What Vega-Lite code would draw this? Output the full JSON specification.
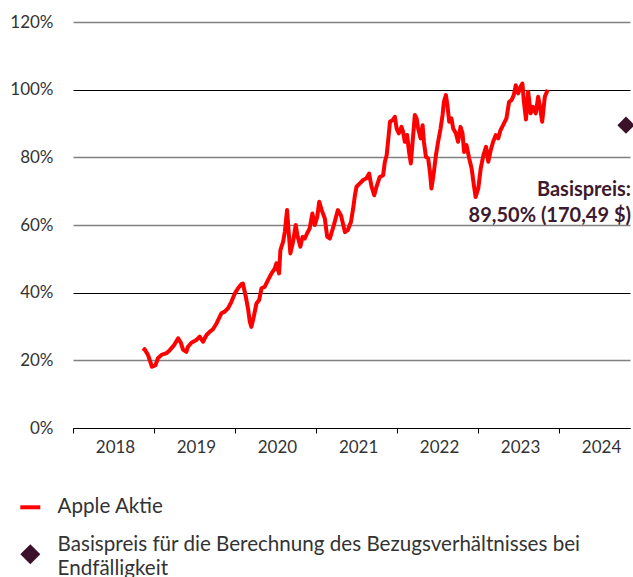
{
  "$schema": "https://vega.github.io/schema/vega-lite/v6.json",
  "width": 557,
  "height": 406,
  "autosize": {"type": "none"},
  "padding": {"left": 73, "top": 22, "right": 3, "bottom": 149},
  "config": {
    "font": "Lato",
    "view": {"stroke": null},
    "axis": {"labelFont": "Lato", "labelFontSize": 17, "labelColor": "#333333", "domainColor": "#000000", "tickColor": "#000000"}
  },
  "datasets": {
    "apple": [
      {"date": "2018/11/14", "value": 22.7}, {"date": "2018/11/20", "value": 23.3}, {"date": "2018/12/05", "value": 21.6},
      {"date": "2018/12/23", "value": 18.1}, {"date": "2019/01/08", "value": 18.6}, {"date": "2019/01/19", "value": 20.6},
      {"date": "2019/02/04", "value": 21.6}, {"date": "2019/02/26", "value": 22.1}, {"date": "2019/03/13", "value": 23.0},
      {"date": "2019/04/02", "value": 24.5}, {"date": "2019/04/20", "value": 26.5}, {"date": "2019/05/02", "value": 25.2},
      {"date": "2019/05/12", "value": 23.2}, {"date": "2019/05/27", "value": 22.5}, {"date": "2019/06/03", "value": 24.0},
      {"date": "2019/06/19", "value": 25.2}, {"date": "2019/07/11", "value": 26.0}, {"date": "2019/07/26", "value": 27.0},
      {"date": "2019/08/10", "value": 25.5}, {"date": "2019/08/26", "value": 27.5}, {"date": "2019/09/09", "value": 28.4},
      {"date": "2019/09/24", "value": 29.2}, {"date": "2019/10/10", "value": 30.9}, {"date": "2019/11/01", "value": 33.9},
      {"date": "2019/11/16", "value": 34.4}, {"date": "2019/12/01", "value": 35.4}, {"date": "2019/12/16", "value": 37.3},
      {"date": "2020/01/01", "value": 39.8}, {"date": "2020/01/15", "value": 41.3}, {"date": "2020/01/30", "value": 42.5},
      {"date": "2020/02/06", "value": 42.7}, {"date": "2020/02/19", "value": 38.8}, {"date": "2020/03/01", "value": 34.9},
      {"date": "2020/03/08", "value": 31.4}, {"date": "2020/03/15", "value": 29.9}, {"date": "2020/03/26", "value": 32.9},
      {"date": "2020/04/07", "value": 36.8}, {"date": "2020/04/19", "value": 37.8}, {"date": "2020/04/30", "value": 41.3},
      {"date": "2020/05/14", "value": 41.7}, {"date": "2020/05/29", "value": 43.7}, {"date": "2020/06/14", "value": 45.7},
      {"date": "2020/06/29", "value": 47.2}, {"date": "2020/07/06", "value": 48.7}, {"date": "2020/07/18", "value": 45.7},
      {"date": "2020/07/24", "value": 52.6}, {"date": "2020/08/05", "value": 55.0}, {"date": "2020/08/13", "value": 58.0},
      {"date": "2020/08/23", "value": 64.4}, {"date": "2020/08/29", "value": 59.0}, {"date": "2020/09/07", "value": 51.6},
      {"date": "2020/09/19", "value": 55.0}, {"date": "2020/10/01", "value": 60.0}, {"date": "2020/10/10", "value": 56.5},
      {"date": "2020/10/22", "value": 53.6}, {"date": "2020/11/01", "value": 56.5}, {"date": "2020/11/11", "value": 56.0},
      {"date": "2020/11/21", "value": 57.5}, {"date": "2020/12/03", "value": 59.0}, {"date": "2020/12/15", "value": 63.4},
      {"date": "2020/12/26", "value": 60.0}, {"date": "2021/01/06", "value": 62.4}, {"date": "2021/01/15", "value": 66.9},
      {"date": "2021/01/26", "value": 64.4}, {"date": "2021/02/09", "value": 62.0}, {"date": "2021/02/20", "value": 56.5},
      {"date": "2021/03/04", "value": 56.0}, {"date": "2021/03/22", "value": 60.0}, {"date": "2021/04/09", "value": 64.4},
      {"date": "2021/04/23", "value": 62.9}, {"date": "2021/05/11", "value": 57.9}, {"date": "2021/05/24", "value": 58.5},
      {"date": "2021/06/07", "value": 60.9}, {"date": "2021/06/17", "value": 64.9}, {"date": "2021/06/25", "value": 68.8},
      {"date": "2021/07/02", "value": 71.3}, {"date": "2021/07/17", "value": 72.3}, {"date": "2021/08/01", "value": 73.3},
      {"date": "2021/08/16", "value": 73.8}, {"date": "2021/08/28", "value": 75.2}, {"date": "2021/09/08", "value": 71.3},
      {"date": "2021/09/20", "value": 68.8}, {"date": "2021/09/30", "value": 71.3}, {"date": "2021/10/15", "value": 74.2},
      {"date": "2021/10/30", "value": 74.7}, {"date": "2021/11/07", "value": 78.7}, {"date": "2021/11/15", "value": 80.6},
      {"date": "2021/11/22", "value": 85.1}, {"date": "2021/11/30", "value": 90.5}, {"date": "2021/12/12", "value": 91.0},
      {"date": "2021/12/22", "value": 92.0}, {"date": "2021/12/30", "value": 88.5}, {"date": "2022/01/09", "value": 87.1},
      {"date": "2022/01/21", "value": 89.0}, {"date": "2022/01/28", "value": 87.5}, {"date": "2022/02/05", "value": 84.6},
      {"date": "2022/02/15", "value": 86.6}, {"date": "2022/02/24", "value": 81.6}, {"date": "2022/03/04", "value": 78.2},
      {"date": "2022/03/12", "value": 84.6}, {"date": "2022/03/22", "value": 92.5}, {"date": "2022/03/30", "value": 91.5},
      {"date": "2022/04/06", "value": 88.5}, {"date": "2022/04/17", "value": 85.6}, {"date": "2022/04/26", "value": 89.5},
      {"date": "2022/05/02", "value": 84.6}, {"date": "2022/05/11", "value": 80.1}, {"date": "2022/05/21", "value": 79.7},
      {"date": "2022/05/29", "value": 75.7}, {"date": "2022/06/05", "value": 70.8}, {"date": "2022/06/16", "value": 75.7},
      {"date": "2022/06/25", "value": 80.6}, {"date": "2022/07/05", "value": 84.6}, {"date": "2022/07/16", "value": 88.5},
      {"date": "2022/07/25", "value": 92.5}, {"date": "2022/07/31", "value": 96.4}, {"date": "2022/08/09", "value": 98.4},
      {"date": "2022/08/16", "value": 95.4}, {"date": "2022/08/24", "value": 90.5}, {"date": "2022/09/03", "value": 91.5},
      {"date": "2022/09/11", "value": 88.5}, {"date": "2022/09/23", "value": 87.1}, {"date": "2022/10/03", "value": 84.6},
      {"date": "2022/10/14", "value": 89.0}, {"date": "2022/10/23", "value": 87.1}, {"date": "2022/10/30", "value": 81.6},
      {"date": "2022/11/10", "value": 83.6}, {"date": "2022/11/22", "value": 79.7}, {"date": "2022/12/03", "value": 76.7},
      {"date": "2022/12/13", "value": 71.8}, {"date": "2022/12/21", "value": 68.3}, {"date": "2023/01/02", "value": 70.8},
      {"date": "2023/01/13", "value": 76.7}, {"date": "2023/01/25", "value": 80.6}, {"date": "2023/02/06", "value": 83.1},
      {"date": "2023/02/16", "value": 78.7}, {"date": "2023/02/27", "value": 82.1}, {"date": "2023/03/10", "value": 84.6},
      {"date": "2023/03/22", "value": 86.6}, {"date": "2023/04/02", "value": 85.6}, {"date": "2023/04/12", "value": 88.0},
      {"date": "2023/04/24", "value": 89.5}, {"date": "2023/05/09", "value": 91.5}, {"date": "2023/05/21", "value": 96.4},
      {"date": "2023/06/01", "value": 96.9}, {"date": "2023/06/11", "value": 98.4}, {"date": "2023/06/20", "value": 101.3},
      {"date": "2023/07/01", "value": 98.9}, {"date": "2023/07/11", "value": 100.8}, {"date": "2023/07/20", "value": 101.8},
      {"date": "2023/07/26", "value": 96.9}, {"date": "2023/08/05", "value": 91.2}, {"date": "2023/08/15", "value": 99.4},
      {"date": "2023/08/26", "value": 93.0}, {"date": "2023/09/06", "value": 94.9}, {"date": "2023/09/18", "value": 93.0},
      {"date": "2023/09/29", "value": 97.9}, {"date": "2023/10/06", "value": 95.4}, {"date": "2023/10/17", "value": 90.5},
      {"date": "2023/10/29", "value": 97.9}, {"date": "2023/11/11", "value": 100.0}
    ],
    "basis": [
      {"date": "2024/10/29", "value": 89.5, "note": "Basispreis:\n89,50% (170,49 $)"}
    ]
  },
  "layer": [
    {
      "data": {"name": "apple"},
      "mark": {"type": "line", "strokeWidth": 4, "strokeJoin": "round"},
      "encoding": {
        "x": {
          "field": "date", "type": "temporal",
          "scale": {"domain": [{"year": 2018, "month": 1, "date": 1}, {"year": 2024, "month": 11, "date": 16}]},
          "axis": {
            "title": null, "grid": false, "format": "%Y",
            "values": [{"year": 2018, "month": 1, "date": 1}, {"year": 2019, "month": 1, "date": 1}, {"year": 2020, "month": 1, "date": 1}, {"year": 2021, "month": 1, "date": 1}, {"year": 2022, "month": 1, "date": 1}, {"year": 2023, "month": 1, "date": 1}, {"year": 2024, "month": 1, "date": 1}],
            "labelOffset": 42, "labelFlush": false, "labelOverlap": false, "labelBound": false,
            "tickSize": 5, "labelPadding": 6, "domainWidth": 1
          }
        },
        "y": {
          "field": "value", "type": "quantitative",
          "scale": {"domain": [0, 120], "nice": false},
          "axis": {
            "title": null, "values": [0, 20, 40, 60, 80, 100, 120],
            "labelExpr": "datum.value + '%'", "domain": false, "ticks": false, "labelPadding": 20,
            "gridOpacity": 1,
            "gridColor": {"condition": {"test": "datum.value == 0 || datum.value == 40 || datum.value == 100", "value": "#000000"}, "value": "#808080"},
            "gridWidth": {"condition": {"test": "datum.value == 0 || datum.value == 40 || datum.value == 100", "value": 1}, "value": 1.6}
          }
        },
        "color": {
          "datum": "Apple Aktie", "type": "nominal",
          "scale": {"domain": ["Apple Aktie", "Basispreis für die Berechnung des Bezugsverhältnisses bei Endfälligkeit"], "range": ["#ff0000", "#3b1129"]},
          "legend": {
            "title": null, "orient": "none", "legendX": -53, "legendY": 475, "direction": "vertical",
            "padding": 0, "symbolSize": 400, "labelFont": "Lato", "labelFontSize": 20.6, "labelColor": "#333333",
            "labelLimit": 1000, "labelOffset": 17, "rowPadding": 17,
            "labelExpr": "datum.label == 'Apple Aktie' ? datum.label : ['Basispreis für die Berechnung des Bezugsverhältnisses bei', 'Endfälligkeit']",
            "encode": {
              "symbols": {"update": {
                "shape": {"signal": "datum.value == 'Apple Aktie' ? 'stroke' : 'diamond'"},
                "stroke": {"signal": "datum.value == 'Apple Aktie' ? '#e4002b' : '#3b1129'"},
                "fill": {"signal": "datum.value == 'Apple Aktie' ? 'transparent' : '#3b1129'"},
                "strokeWidth": {"signal": "datum.value == 'Apple Aktie' ? 4 : 0"},
                "opacity": {"value": 1}
              }},
              "labels": {"update": {
                "lineHeight": {"value": 24},
                "dy": {"signal": "datum.value == 'Apple Aktie' ? 0 : -9"}
              }}
            }
          }
        }
      }
    },
    {
      "data": {"name": "basis"},
      "mark": {"type": "point", "shape": "diamond", "filled": true, "size": 300, "opacity": 1},
      "encoding": {
        "x": {"field": "date", "type": "temporal"},
        "y": {"field": "value", "type": "quantitative"},
        "color": {"datum": "Basispreis für die Berechnung des Bezugsverhältnisses bei Endfälligkeit", "type": "nominal"}
      }
    },
    {
      "data": {"name": "basis"},
      "mark": {"type": "text", "align": "right", "baseline": "middle", "dx": 5, "dy": 65, "fontSize": 20, "fontWeight": "bold", "lineBreak": "\n", "lineHeight": 26, "color": "#3d1a2e"},
      "encoding": {
        "x": {"field": "date", "type": "temporal"},
        "y": {"field": "value", "type": "quantitative"},
        "text": {"field": "note"}
      }
    }
  ]
}
